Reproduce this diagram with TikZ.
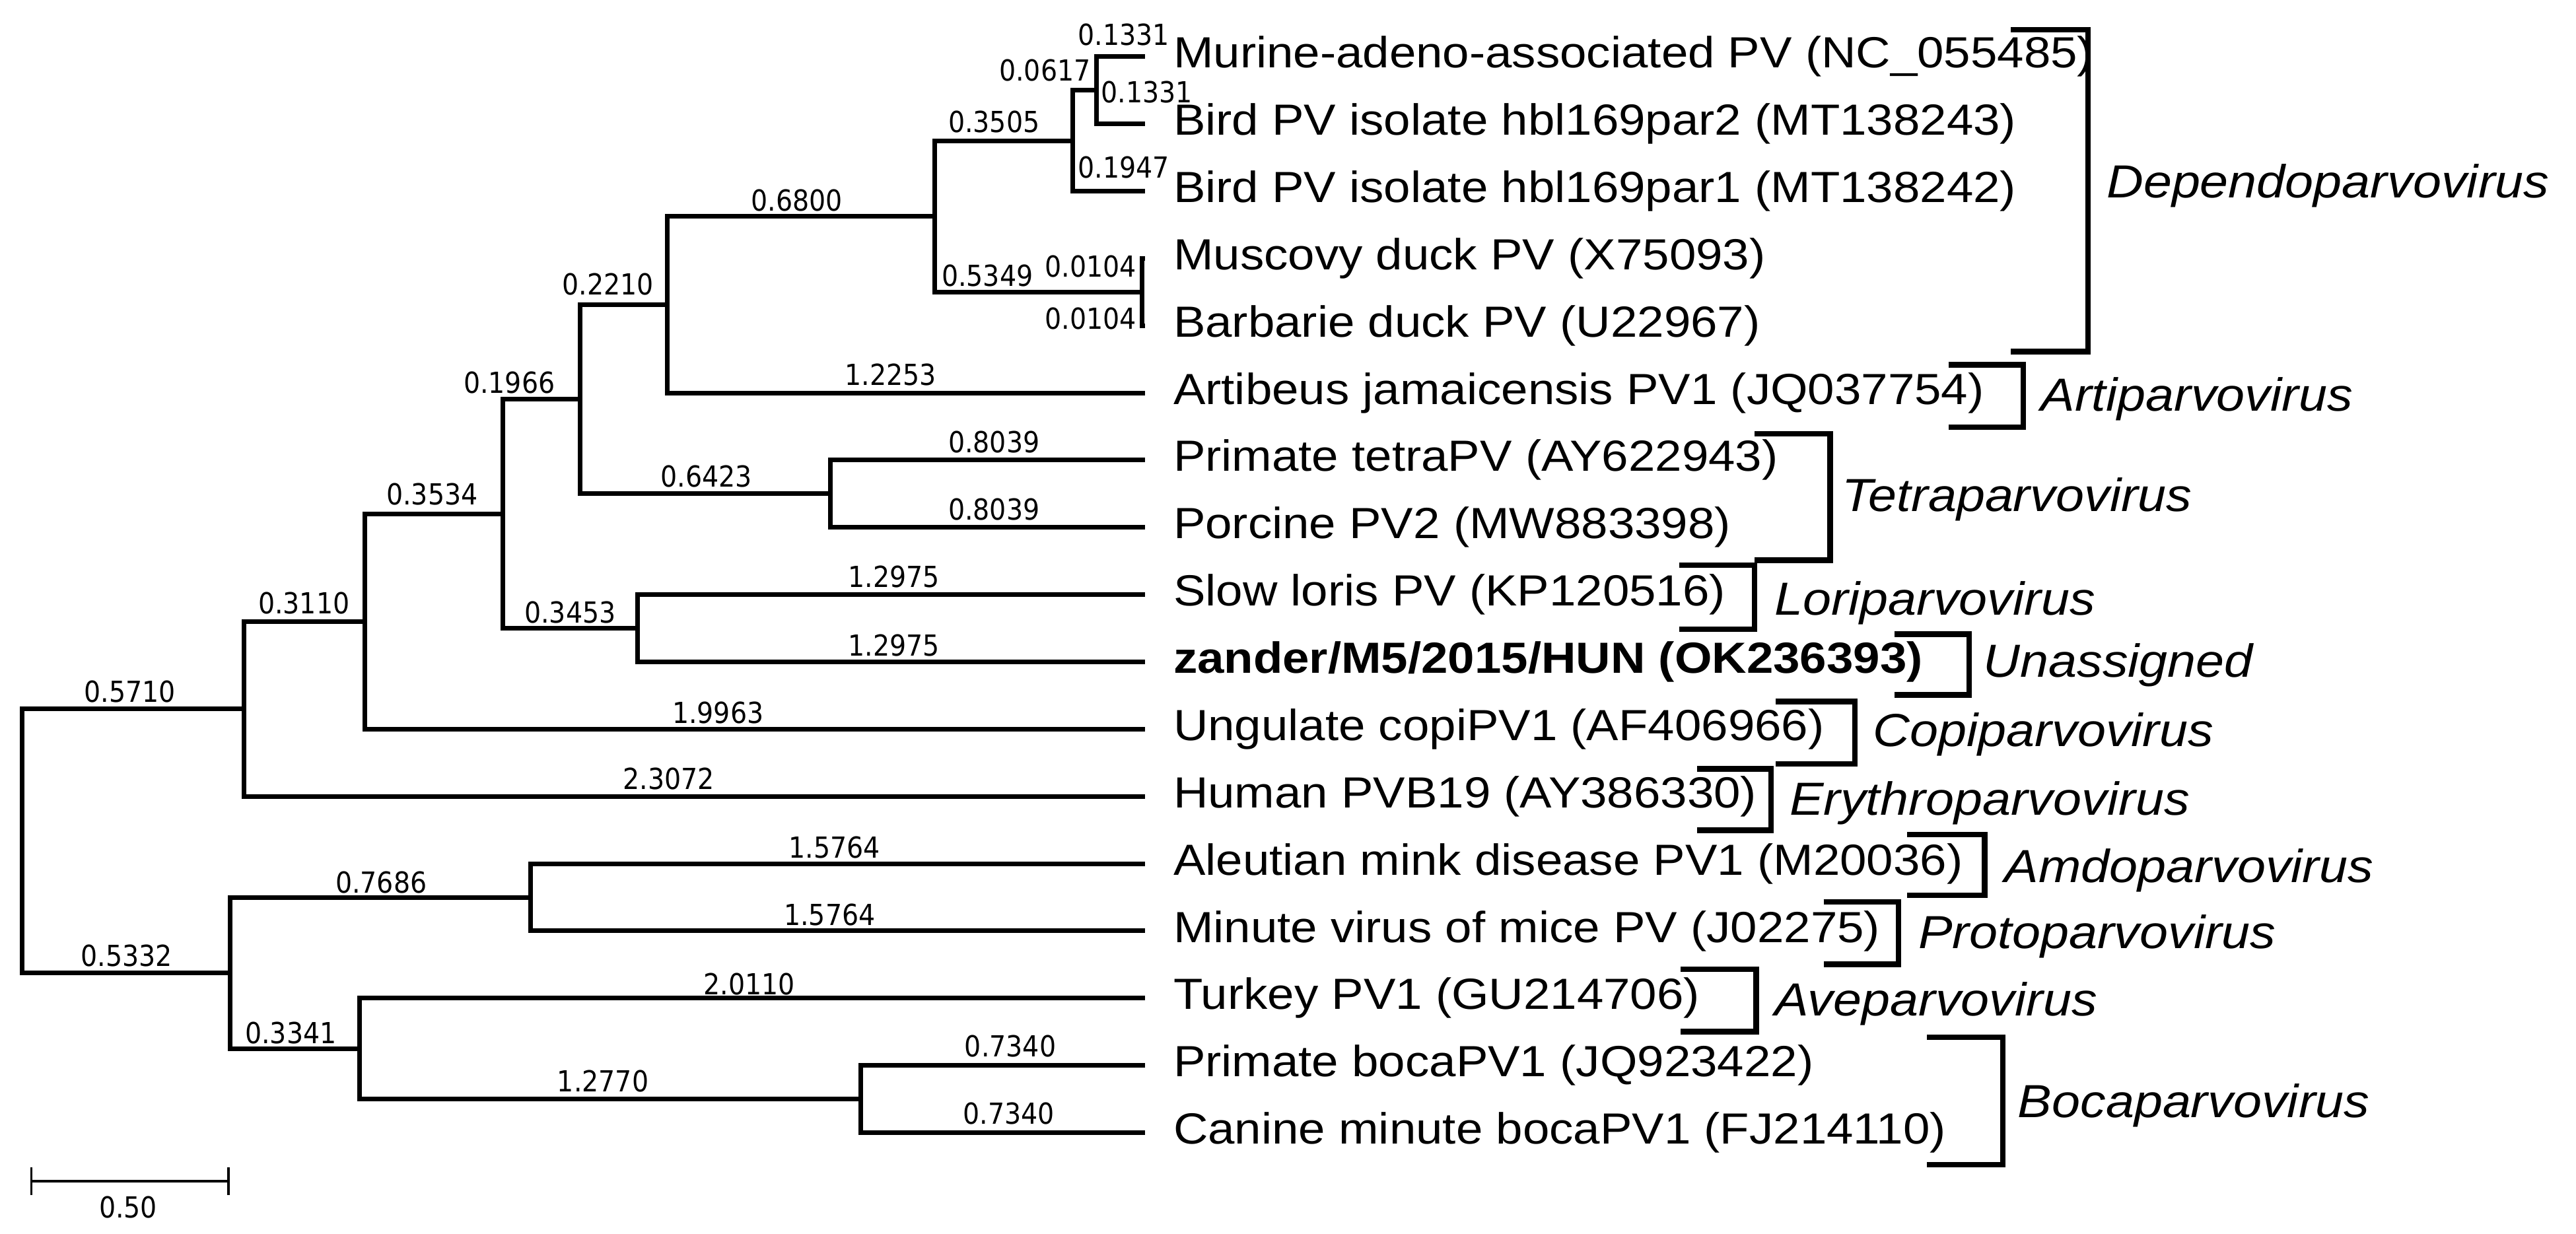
\documentclass[tikz,border=0pt]{standalone}
\usepackage{fontspec}
\setmainfont{Liberation Sans}[FakeStretch=1.1]
\newfontfamily\lblfont{DejaVu Sans Condensed}
\begin{document}
\begin{tikzpicture}[x=0.02488cm,y=-0.02488cm,
  br/.style={line width=2pt},
  bk/.style={line width=2.4pt},
  leaf/.style={anchor=west,inner sep=0pt,font=\fontsize{18.8}{20}\selectfont},
  cl/.style={anchor=west,inner sep=0pt,font=\fontsize{20}{22}\selectfont\itshape},
  bl/.style={inner sep=0pt,font=\lblfont\fontsize{12.5}{13}\selectfont}]
\useasboundingbox (0,0) rectangle (1568,751);
% internal nodes
\coordinate (r) at (13.4,512);
\coordinate (A) at (148.5,431.6);
\coordinate (B) at (222,378.4);
\coordinate (C) at (306,312.8);
\coordinate (D) at (353,243);
\coordinate (E) at (406,185.5);
\coordinate (F) at (569,131.7);
\coordinate (G) at (653,85.7);
\coordinate (H) at (667.5,55);
\coordinate (I) at (695,177.8);
\coordinate (J) at (505.5,300.6);
\coordinate (K) at (388,382.5);
\coordinate (L) at (140,592.4);
\coordinate (M) at (323,546.3);
\coordinate (N) at (219,638.4);
\coordinate (O) at (524,669);
% leaves
\coordinate (l1) at (697,34.5);
\coordinate (l2) at (697,75.4);
\coordinate (l3) at (697,116.4);
\coordinate (l4) at (697,157.3);
\coordinate (l5) at (697,198.3);
\coordinate (l6) at (697,239.2);
\coordinate (l7) at (697,280.1);
\coordinate (l8) at (697,321.1);
\coordinate (l9) at (697,362);
\coordinate (l10) at (697,403);
\coordinate (l11) at (697,443.9);
\coordinate (l12) at (697,484.8);
\coordinate (l13) at (697,525.8);
\coordinate (l14) at (697,566.7);
\coordinate (l15) at (697,607.7);
\coordinate (l16) at (697,648.6);
\coordinate (l17) at (697,689.5);
\draw[br] (r) |- (A); \draw[br] (r) |- (L);
\draw[br] (A) |- (B); \draw[br] (A) |- (l12);
\draw[br] (B) |- (C); \draw[br] (B) |- (l11);
\draw[br] (C) |- (D); \draw[br] (C) |- (K);
\draw[br] (D) |- (E); \draw[br] (D) |- (J);
\draw[br] (E) |- (F); \draw[br] (E) |- (l6);
\draw[br] (F) |- (G); \draw[br] (F) |- (I);
\draw[br] (G) |- (H); \draw[br] (G) |- (l3);
\draw[br] (H) |- (l1); \draw[br] (H) |- (l2);
\draw[br] (I) |- (l4); \draw[br] (I) |- (l5);
\draw[br] (J) |- (l7); \draw[br] (J) |- (l8);
\draw[br] (K) |- (l9); \draw[br] (K) |- (l10);
\draw[br] (L) |- (M); \draw[br] (L) |- (N);
\draw[br] (M) |- (l13); \draw[br] (M) |- (l14);
\draw[br] (N) |- (l15); \draw[br] (N) |- (O);
\draw[br] (O) |- (l16); \draw[br] (O) |- (l17);
% branch labels
\node[bl] (b1) at (79,421) {0.5710};
\node[bl] (b2) at (77,582) {0.5332};
\node[bl] (b3) at (185,367) {0.3110};
\node[bl] (b4) at (263,301) {0.3534};
\node[bl] (b5) at (310,233) {0.1966};
\node[bl] (b6) at (370,173) {0.2210};
\node[bl] (b7) at (485,122) {0.6800};
\node[bl] (b8) at (605,74) {0.3505};
\node[bl] (b9) at (636,43) {0.0617};
\node[bl] (b10) at (684,21) {0.1331};
\node[bl] (b11) at (698,56) {0.1331};
\node[bl] (b12) at (684,102) {0.1947};
\node[bl] (b13) at (601,168) {0.5349};
\node[bl] (b14) at (664,162) {0.0104};
\node[bl] (b15) at (664,194) {0.0104};
\node[bl] (b16) at (542,228) {1.2253};
\node[bl] (b17) at (430,290) {0.6423};
\node[bl] (b18) at (605,269) {0.8039};
\node[bl] (b19) at (605,310) {0.8039};
\node[bl] (b20) at (347,373) {0.3453};
\node[bl] (b21) at (544,351) {1.2975};
\node[bl] (b22) at (544,393) {1.2975};
\node[bl] (b23) at (437,434) {1.9963};
\node[bl] (b24) at (407,474) {2.3072};
\node[bl] (b25) at (232,537) {0.7686};
\node[bl] (b26) at (508,516) {1.5764};
\node[bl] (b27) at (505,557) {1.5764};
\node[bl] (b28) at (177,629) {0.3341};
\node[bl] (b29) at (456,599) {2.0110};
\node[bl] (b30) at (367,658) {1.2770};
\node[bl] (b31) at (615,637) {0.7340};
\node[bl] (b32) at (614,678) {0.7340};
% leaf labels
\node[leaf] (t1) at (714,34.5) {Murine-adeno-associated PV (NC\_055485)};
\node[leaf] (t2) at (714,75.4) {Bird PV isolate hbl169par2 (MT138243)};
\node[leaf] (t3) at (714,116.4) {Bird PV isolate hbl169par1 (MT138242)};
\node[leaf] (t4) at (714,157.3) {Muscovy duck PV (X75093)};
\node[leaf] (t5) at (714,198.3) {Barbarie duck PV (U22967)};
\node[leaf] (t6) at (714,239.2) {Artibeus jamaicensis PV1 (JQ037754)};
\node[leaf] (t7) at (714,280.1) {Primate tetraPV (AY622943)};
\node[leaf] (t8) at (714,321.1) {Porcine PV2 (MW883398)};
\node[leaf] (t9) at (714,362) {Slow loris PV (KP120516)};
\node[leaf,font=\fontsize{18.8}{20}\selectfont\bfseries] (t10) at (714,403) {zander/M5/2015/HUN (OK236393)};
\node[leaf] (t11) at (714,443.9) {Ungulate copiPV1 (AF406966)};
\node[leaf] (t12) at (714,484.8) {Human PVB19 (AY386330)};
\node[leaf] (t13) at (714,525.8) {Aleutian mink disease PV1 (M20036)};
\node[leaf] (t14) at (714,566.7) {Minute virus of mice PV (J02275)};
\node[leaf] (t15) at (714,607.7) {Turkey PV1 (GU214706)};
\node[leaf] (t16) at (714,648.6) {Primate bocaPV1 (JQ923422)};
\node[leaf] (t17) at (714,689.5) {Canine minute bocaPV1 (FJ214110)};
% clade brackets
\draw[bk] (1224,18) -- (1271,18) -- (1271,214) -- (1224,214);
\node[cl] (c1) at (1282,113) {Dependoparvovirus};
\draw[bk] (1186,222) -- (1231.5,222) -- (1231.5,260) -- (1186,260);
\node[cl] (c2) at (1242,243) {Artiparvovirus};
\draw[bk] (1068,264) -- (1114,264) -- (1114,341) -- (1068,341);
\node[cl] (c3) at (1121,304) {Tetraparvovirus};
\draw[bk] (1022,344) -- (1068,344) -- (1068,383) -- (1022,383);
\node[cl] (c4) at (1080,367) {Loriparvovirus};
\draw[bk] (1153,386) -- (1198.5,386) -- (1198.5,423) -- (1153,423);
\node[cl] (c5) at (1207,405) {Unassigned};
\draw[bk] (1081,427) -- (1129,427) -- (1129,465) -- (1081,465);
\node[cl] (c6) at (1140,447) {Copiparvovirus};
\draw[bk] (1033,468) -- (1078,468) -- (1078,505.5) -- (1033,505.5);
\node[cl] (c7) at (1089,489) {Erythroparvovirus};
\draw[bk] (1161,508) -- (1208,508) -- (1208,545) -- (1161,545);
\node[cl] (c8) at (1220,530) {Amdoparvovirus};
\draw[bk] (1110,549) -- (1155.5,549) -- (1155.5,587) -- (1110,587);
\node[cl] (c9) at (1167.5,570) {Protoparvovirus};
\draw[bk] (1023,590) -- (1069,590) -- (1069,628) -- (1023,628);
\node[cl] (c10) at (1080,611) {Aveparvovirus};
\draw[bk] (1173,631.5) -- (1219,631.5) -- (1219,709) -- (1173,709);
\node[cl] (c11) at (1228,673) {Bocaparvovirus};
% scale bar
\coordinate (s1) at (19,719);
\coordinate (s2) at (139,719);
\draw[line width=1pt] (s1) -- (s2);
\draw[line width=1pt] ([yshift=-6]s1) -- ([yshift=6]s1);
\draw[line width=1pt] ([yshift=-6]s2) -- ([yshift=6]s2);
\node[bl] (sl) at (78,735) {0.50};
\end{tikzpicture}
\end{document}
